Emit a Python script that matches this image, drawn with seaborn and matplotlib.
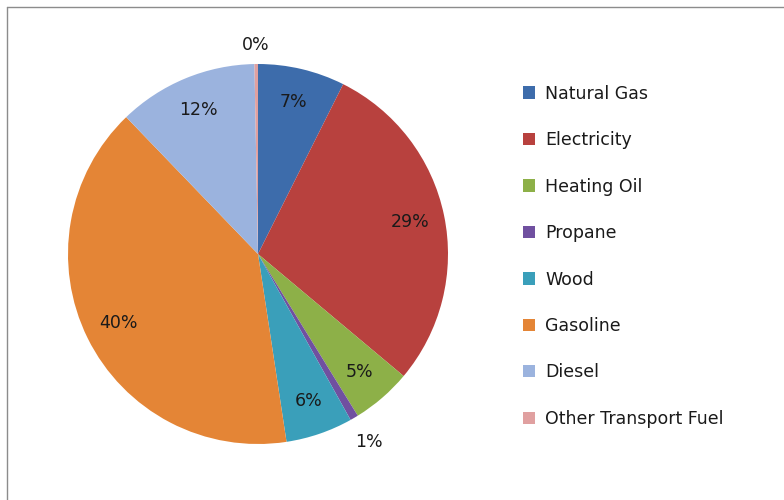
import numpy as np
import matplotlib
matplotlib.use("Agg")
import matplotlib.pyplot as plt
import seaborn as sns
from matplotlib.patches import Rectangle
from matplotlib.lines import Line2D

sns.set_theme(style="white")
plt.rcParams['font.family'] = ['DejaVu Sans']

categories = ["Natural Gas", "Electricity", "Heating Oil", "Propane", "Wood",
              "Gasoline", "Diesel", "Other Transport Fuel"]
shares = [7.4, 28.7, 5.1, 0.7, 5.7, 40.2, 11.9, 0.3]
colors = ["#3D6CAB", "#B8413E", "#8DB048", "#7050A0", "#3A9FBA",
          "#E48536", "#9BB3DE", "#E0A0A0"]

W, H = 784, 500
fig = plt.figure(figsize=(W / 100, H / 100), dpi=100)

# pie geometry in pixels
cx, cy, r = 258, 254, 190
box = 460
ax = fig.add_axes([(cx - box / 2) / W, (H - cy - box / 2) / H, box / W, box / H])

wedges, texts, autotexts = ax.pie(
    shares, colors=colors, startangle=90, counterclock=False,
    autopct="%.0f%%", pctdistance=0.82, radius=1.0,
    wedgeprops=dict(linewidth=0, edgecolor="none"),
    textprops=dict(fontsize=12.5, color="#1a1a1a"))

# move labels of tiny slices outside
for w, t, v in zip(wedges, autotexts, shares):
    if v < 2:
        ang = np.deg2rad((w.theta1 + w.theta2) / 2)
        d = 1.10 if v < 0.5 else 1.15
        t.set_position((d * np.cos(ang), d * np.sin(ang)))

lim = box / 2 / r
ax.set_xlim(-lim, lim)
ax.set_ylim(-lim, lim)
ax.set_aspect("equal")
ax.axis("off")

# legend
handles = [Rectangle((0, 0), 1, 1, facecolor=c, edgecolor="none") for c in colors]
leg = fig.legend(handles, categories, loc="upper left",
                 bbox_to_anchor=(507 / W, 1 - 69 / H), frameon=False,
                 fontsize=12.5, labelspacing=1.64, handlelength=0.7,
                 handleheight=0.7, handletextpad=0.6, labelcolor="#1a1a1a")

# chart border (left and top visible)
fig.add_artist(Line2D([7 / W, 7 / W], [0, 1 - 7 / H], transform=fig.transFigure,
                      color="#8c8c8c", linewidth=1))
fig.add_artist(Line2D([7 / W, 1], [1 - 7 / H, 1 - 7 / H], transform=fig.transFigure,
                      color="#8c8c8c", linewidth=1))

fig.savefig("out.png", dpi=100, facecolor="white")
